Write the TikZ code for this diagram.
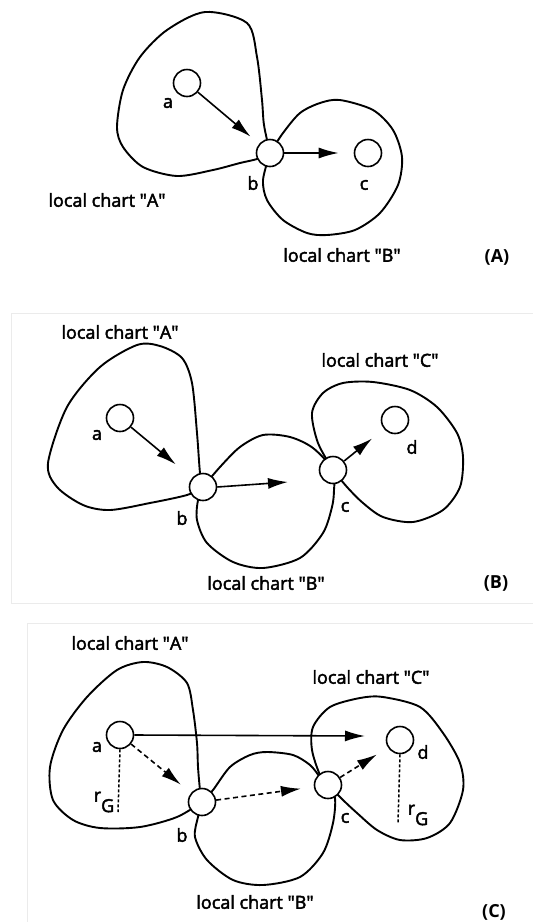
\documentclass[tikz,border=0pt]{standalone}
\usepackage{fontspec}
\setmainfont{Open Sans}
\newfontfamily\chartfont{Open Sans}[FakeBold=2.5]
\newcommand\qt{\textquotedbl}
\usetikzlibrary{arrows.meta}
\begin{document}
\begin{tikzpicture}[x=1pt,y=-1pt,
  chart/.style={line width=1.9pt, line join=round},
  pt/.style={circle, draw, line width=1.6pt, fill=white, minimum size=27pt, inner sep=0pt},
  lbl/.style={font=\chartfont\fontsize{18}{20}\selectfont, inner sep=0pt},
  tag/.style={font=\fontsize{18}{20}\selectfont\bfseries, inner sep=0pt},
  arr/.style={line width=1.6pt, -{Latex[length=20pt,width=11pt]}},
  darr/.style={arr, dash pattern=on 5pt off 3.5pt},
  rad/.style={line width=1.5pt, dash pattern=on 3pt off 2pt},
  frame/.style={draw=black!8, line width=0.8pt}]
\useasboundingbox (0,0) rectangle (533,922);

% faint panel frames
\draw[frame] (540,313) -- (11,313) -- (11,603) -- (540,603);
\draw[frame] (540,623) -- (27,623) -- (27,930);

% ---------------- panel (A) ----------------
\draw[chart] plot[smooth] coordinates {(270,153) (264,125) (262,100) (257,57) (247,23) (205,12) (167,30) (140,57) (123,90) (117,127) (123,147) (143,167) (177,176) (213,170) (240,163) (257,159) (270,153)};
\draw[chart] plot[smooth] coordinates {(270,153) (283,133) (300,113) (320,103) (340,100) (373,110) (393,130) (402,157) (398,185) (380,213) (355,230) (327,235) (307,233) (283,220) (267,200) (263,180) (270,153)};
\node[pt] (aA) at (187,83) {};
\node[pt] (bA) at (270,153) {};
\node[pt] (cA) at (368,153) {};
\draw[arr, shorten >=11pt] (aA) -- (bA);
\draw[arr, shorten >=15pt] (bA) -- (cA);
\node[lbl] (laA) at (168,103) {a};
\node[lbl] (lbA) at (253,183) {b};
\node[lbl] (lcA) at (364,185) {c};
\node[lbl] (chAA) at (107,200) {local chart \qt A\qt};
\node[lbl] (chBA) at (342,255) {local chart \qt B\qt};
\node[tag] (tagA) at (497,257) {(A)};

% ---------------- panel (B) ----------------
\draw[chart] plot[smooth] coordinates {(203,487) (200,473) (197,433) (192,383) (182,358) (160,346) (137,345) (100,367) (67,407) (48,463) (57,487) (83,505) (110,510) (150,503) (187,495) (203,487)};
\draw[chart] plot[smooth] coordinates {(203,487) (220,467) (240,447) (263,435) (290,437) (313,448) (333,470) (334,490) (332,507) (323,533) (300,558) (263,568) (233,562) (207,543) (197,520) (198,500) (203,487)};
\draw[chart] plot[smooth] coordinates {(333,470) (318,443) (312,413) (323,393) (343,383) (373,382) (410,390) (437,407) (457,433) (463,457) (460,487) (443,510) (413,522) (383,517) (363,503) (347,487) (333,470)};
\node[pt] (aB) at (120,418) {};
\node[pt] (bB) at (203,487) {};
\node[pt] (cB) at (333,470) {};
\node[pt] (dB) at (395,420) {};
\coordinate (tipB) at (288,482);
\draw[arr, shorten >=21pt] (aB) -- (bB);
\draw[arr] (bB.east) -- (tipB);
\draw[arr, shorten >=15pt] (cB) -- (dB);
\node[lbl] (laB) at (97,435) {a};
\node[lbl] (lbB) at (182,518) {b};
\node[lbl] (lcB) at (345,507) {c};
\node[lbl] (ldB) at (412,447) {d};
\node[lbl] (chAB) at (120,332) {local chart \qt A\qt};
\node[lbl] (chCB) at (380,360) {local chart \qt C\qt};
\node[lbl] (chBB) at (266,583) {local chart \qt B\qt};
\node[tag] (tagB) at (496,583) {(B)};

% ---------------- panel (C) ----------------
\draw[chart] plot[smooth] coordinates {(202,802) (200,790) (198,767) (197,743) (193,710) (187,683) (167,667) (143,662) (117,670) (87,697) (63,730) (50,767) (53,800) (73,820) (100,828) (140,827) (177,817) (202,802)};
\draw[chart] plot[smooth] coordinates {(202,802) (213,790) (230,767) (250,755) (267,752) (293,755) (310,765) (320,777) (328,785) (335,798) (333,823) (323,853) (300,877) (263,885) (233,880) (207,860) (195,837) (198,817) (202,802)};
\draw[chart] plot[smooth] coordinates {(328,785) (320,775) (312,750) (313,727) (330,707) (360,698) (383,697) (420,707) (443,733) (460,763) (463,790) (450,823) (427,838) (400,840) (377,830) (357,813) (343,800) (328,785)};
\node[pt] (aC) at (120,735) {};
\node[pt] (bC) at (202,802) {};
\node[pt] (cC) at (328,785) {};
\node[pt] (dC) at (400,740) {};
\coordinate (tipC) at (365,736);
\coordinate (rgA) at (118,812);
\coordinate (rgD) at (398,823);
\draw[arr] (aC.east) -- (tipC);
\draw[darr, shorten >=13pt] (aC) -- (bC);
\draw[darr, shorten >=13pt] (bC) -- (cC);
\draw[darr, shorten >=13pt] (cC) -- (dC);
\draw[rad] (aC.south) -- (rgA);
\draw[rad] (dC.south) -- (rgD);
\node[lbl] (laC) at (97,747) {a};
\node[lbl] (lbC) at (182,835) {b};
\node[lbl] (lcC) at (345,818) {c};
\node[lbl] (ldC) at (423,752) {d};
\node[lbl] (rGa) at (104,802) {r\raisebox{-1.1ex}{G}};
\node[lbl] (rGd) at (418,815) {r\raisebox{-1.1ex}{G}};
\node[lbl] (chAC) at (130,643) {local chart \qt A\qt};
\node[lbl] (chCC) at (371,677) {local chart \qt C\qt};
\node[lbl] (chBC) at (255,902) {local chart \qt B\qt};
\node[tag] (tagC) at (494,912) {(C)};
\end{tikzpicture}
\end{document}
